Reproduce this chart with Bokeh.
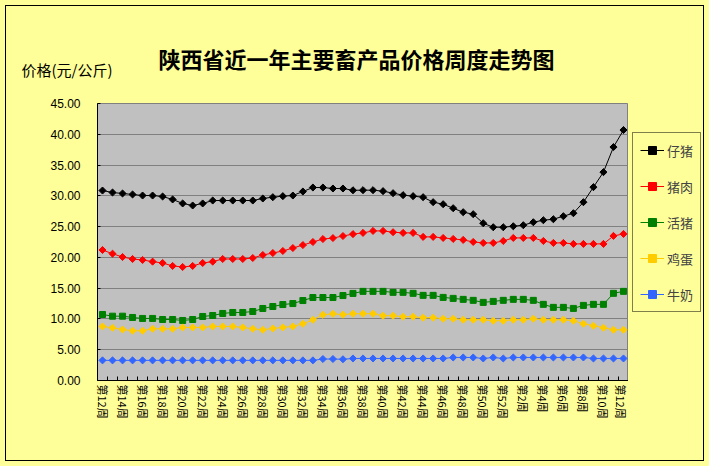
import numpy as np
from bokeh.plotting import figure
from bokeh.layouts import row
from bokeh.models import (FixedTicker, Label, Legend, LegendItem, InlineStyleSheet,
                          PrintfTickFormatter, Range1d, ColumnDataSource)
from bokeh.embed import file_html
from bokeh.resources import INLINE

weeks = ["第12周", "第13周", "第14周", "第15周", "第16周", "第17周", "第18周", "第19周",
         "第20周", "第21周", "第22周", "第23周", "第24周", "第25周", "第26周", "第27周",
         "第28周", "第29周", "第30周", "第31周", "第32周", "第33周", "第34周", "第35周",
         "第36周", "第37周", "第38周", "第39周", "第40周", "第41周", "第42周", "第43周",
         "第44周", "第45周", "第46周", "第47周", "第48周", "第49周", "第50周", "第51周",
         "第52周", "第1周", "第2周", "第3周", "第4周", "第5周", "第6周", "第7周",
         "第8周", "第9周", "第10周", "第11周", "第12周"]

zizhu = [30.86, 30.54, 30.38, 30.22, 30.05, 30.05, 29.89, 29.41, 28.76, 28.43,
         28.76, 29.24, 29.24, 29.24, 29.24, 29.24, 29.57, 29.78, 29.95, 30.05,
         30.70, 31.35, 31.35, 31.19, 31.19, 30.90, 30.92, 30.92, 30.76, 30.43,
         30.11, 29.95, 29.78, 28.97, 28.64, 27.99, 27.34, 27.02, 25.55, 24.90,
         24.90, 25.06, 25.23, 25.71, 26.04, 26.20, 26.69, 27.18, 28.97, 31.41,
         33.85, 37.92, 40.69]

zhurou = [21.20, 20.60, 20.06, 19.74, 19.58, 19.31, 19.09, 18.61, 18.44, 18.61,
          19.09, 19.31, 19.74, 19.74, 19.74, 19.90, 20.39, 20.71, 21.04, 21.52,
          22.00, 22.50, 22.98, 23.14, 23.47, 23.78, 23.98, 24.30, 24.30, 24.09,
          23.98, 23.98, 23.33, 23.33, 23.16, 23.00, 22.84, 22.51, 22.35, 22.35,
          22.67, 23.16, 23.16, 23.16, 22.67, 22.35, 22.35, 22.19, 22.19, 22.19,
          22.19, 23.49, 23.81]

huozhu = [10.72, 10.45, 10.45, 10.24, 10.08, 10.08, 9.91, 9.91, 9.75, 9.91,
          10.40, 10.56, 10.89, 11.05, 11.05, 11.21, 11.70, 12.02, 12.34, 12.50,
          12.99, 13.48, 13.48, 13.48, 13.80, 14.15, 14.48, 14.48, 14.48, 14.32,
          14.32, 14.16, 13.83, 13.83, 13.50, 13.34, 13.18, 13.02, 12.69, 12.85,
          13.02, 13.18, 13.18, 13.02, 12.37, 11.88, 11.88, 11.71, 12.20, 12.37,
          12.37, 14.16, 14.48]

jidan = [8.78, 8.56, 8.29, 8.08, 8.08, 8.40, 8.40, 8.40, 8.62, 8.62,
         8.62, 8.78, 8.78, 8.78, 8.62, 8.40, 8.24, 8.45, 8.62, 8.78,
         9.21, 9.86, 10.67, 10.83, 10.70, 10.85, 10.85, 10.85, 10.52, 10.52,
         10.36, 10.36, 10.20, 10.20, 10.03, 10.03, 9.87, 9.87, 9.87, 9.71,
         9.71, 9.87, 9.87, 10.03, 9.87, 9.87, 9.87, 9.71, 9.22, 8.89,
         8.57, 8.24, 8.24]

niunai = [3.27, 3.27, 3.27, 3.27, 3.27, 3.27, 3.27, 3.27, 3.27, 3.27,
          3.27, 3.27, 3.27, 3.27, 3.27, 3.27, 3.27, 3.27, 3.27, 3.27,
          3.27, 3.27, 3.49, 3.49, 3.45, 3.58, 3.58, 3.58, 3.58, 3.58,
          3.58, 3.58, 3.58, 3.58, 3.58, 3.74, 3.74, 3.74, 3.58, 3.74,
          3.58, 3.74, 3.74, 3.74, 3.74, 3.74, 3.74, 3.74, 3.74, 3.58,
          3.58, 3.58, 3.58]

series_names = ["仔猪", "猪肉", "活猪", "鸡蛋", "牛奶"]
series_values = [zizhu, zhurou, huozhu, jidan, niunai]
series_colors = ["#000000", "#FF0000", "#008000", "#FFCC00", "#3366FF"]

y_ticks = [0, 5, 10, 15, 20, 25, 30, 35, 40, 45]

CJK = "Noto Sans CJK SC"
BG = "#FFFF99"

idx = list(range(len(weeks)))

P_W, Q_W, H = 628, 81, 466

p = figure(width=P_W, height=H, output_backend="svg", toolbar_location=None,
           x_range=Range1d(-0.5, len(weeks) - 0.5), y_range=Range1d(0, 45),
           min_border_left=97, min_border_right=0, min_border_top=103,
           min_border_bottom=86,
           background_fill_color="#C0C0C0", border_fill_color=BG)
p.outline_line_color = "#808080"

# x axis
xa = p.xaxis[0]
xa.ticker = FixedTicker(ticks=list(range(0, len(weeks), 2)),
                        minor_ticks=[i - 0.5 for i in range(len(weeks) + 1)])
xa.major_label_overrides = {i: weeks[i] for i in range(0, len(weeks), 2)}
xa.major_label_orientation = "vertical"
xa.major_tick_in = 0
xa.major_tick_out = 0
xa.minor_tick_in = 4
xa.minor_tick_out = 0
xa.minor_tick_line_color = "black"
xa.axis_line_color = "black"
xa.major_label_text_font = CJK
xa.major_label_text_font_size = "11px"
xa.major_label_text_color = "black"
xa.major_label_standoff = 4

# y axis
ya = p.yaxis[0]
ya.ticker = FixedTicker(ticks=y_ticks)
ya.formatter = PrintfTickFormatter(format="%.2f")
ya.major_tick_in = 3
ya.major_tick_out = 0
ya.minor_tick_line_color = None
ya.axis_line_color = "black"
ya.major_tick_line_color = "black"
ya.major_label_text_font = "Liberation Sans"
ya.major_label_text_font_size = "12px"
ya.major_label_text_color = "black"
ya.major_label_standoff = 17

p.xgrid.grid_line_color = None
p.ygrid.ticker = FixedTicker(ticks=y_ticks)
p.ygrid.grid_line_color = "#808080"
p.ygrid.grid_line_width = 1

# side figure that hosts the legend
q = figure(width=Q_W, height=H, output_backend="svg", toolbar_location=None,
           x_range=Range1d(-100, -99), y_range=Range1d(-100, -99),
           min_border_left=0, min_border_right=0, min_border_top=0,
           min_border_bottom=0,
           background_fill_color=BG, border_fill_color=BG)
q.outline_line_color = None
q.axis.visible = False
q.grid.visible = False


def draw(fig, src, name, col):
    r1 = fig.line("x", "y", source=src, line_color=col, line_width=1)
    if name == "活猪":
        r2 = fig.scatter("x", "y", source=src, marker="square", size=6,
                         fill_color=col, line_color=col)
    else:
        r2 = fig.scatter("x", "y", source=src, marker="square", size=5,
                         angle=np.pi / 4, fill_color=col, line_color=col)
    return r1, r2


items = []
for name, vals, col in zip(series_names, series_values, series_colors):
    src = ColumnDataSource(dict(x=idx, y=vals))
    draw(p, src, name, col)
    l1, l2 = draw(q, src, name, col)   # outside q's ranges: only the legend shows
    items.append(LegendItem(label=name, renderers=[l1, l2]))

legend = Legend(items=items, location=(4, 68))
legend.border_line_color = "black"
legend.border_line_width = 1
legend.background_fill_color = BG
legend.background_fill_alpha = 1
legend.label_text_font = CJK
legend.label_text_font_size = "13px"
legend.glyph_width = 24
legend.glyph_height = 20
legend.label_height = 20
legend.spacing = 16
legend.padding = 7
legend.margin = 0
legend.label_standoff = 3
q.add_layout(legend)

title = Label(x=356, y=57, x_units="canvas", y_units="canvas",
              text="陕西省近一年主要畜产品价格周度走势图", text_font=CJK,
              text_font_size="22px", text_font_style="bold",
              text_align="center", text_baseline="middle", text_color="black")
p.add_layout(title, "above")

ylab = Label(x=21, y=69, x_units="canvas", y_units="canvas",
             text="价格(元/公斤)", text_font=CJK, text_font_size="15px",
             text_align="left", text_baseline="middle", text_color="black")
p.add_layout(ylab, "above")

layout = row(p, q)
layout.stylesheets = [InlineStyleSheet(css="""
:host { position: relative; background-color: #FFFF99; }
:host::after {
  content: "";
  position: absolute;
  left: 5px; top: 5px; right: 5px; bottom: 5px;
  border: 1px solid black;
  pointer-events: none;
  z-index: 100;
}
""")]

open("out.html", "w").write(file_html(layout, INLINE))
